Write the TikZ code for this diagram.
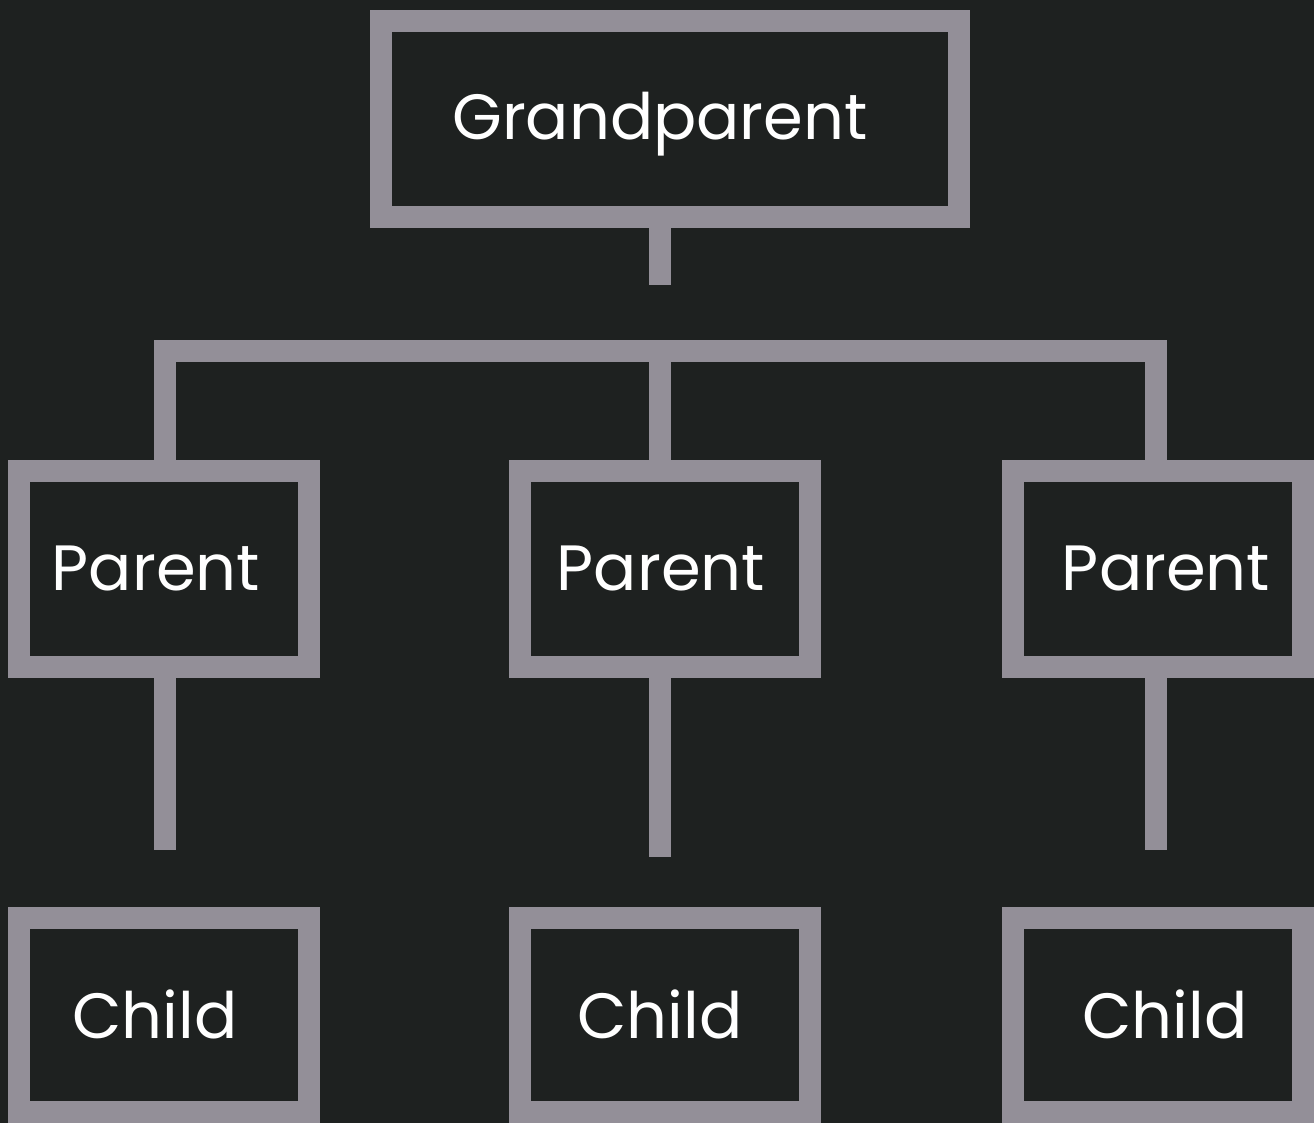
\documentclass[tikz,border=0pt]{standalone}
\usepackage{fontspec}
\setmainfont{Poppins}
\definecolor{bgc}{HTML}{1E2120}
\definecolor{linec}{HTML}{938F98}
\begin{document}
\begin{tikzpicture}[x=1pt,y=-1pt,
  boxstyle/.style={draw=linec,line width=22pt,inner sep=0pt,minimum height=196pt,minimum width=290pt},
  conn/.style={draw=linec,line width=22pt},
  lbl/.style={text=white,font=\fontsize{64}{70}\selectfont,anchor=base,inner sep=0pt}]
\fill[bgc] (0,0) rectangle (1314,1123);
\useasboundingbox (0,0) rectangle (1314,1123);
% boxes
\node[boxstyle,minimum width=578pt] (gp) at (670,119) {};
\node[boxstyle] (p1) at (164,569) {};
\node[boxstyle] (p2) at (665,569) {};
\node[boxstyle] (p3) at (1158,569) {};
\node[boxstyle,minimum height=194pt] (c1) at (164,1015) {};
\node[boxstyle,minimum height=194pt] (c2) at (665,1015) {};
\node[boxstyle,minimum height=194pt] (c3) at (1158,1015) {};
% labels
\node[lbl] (tgp) at (660,140) {Grandparent};
\node[lbl] (tp1) at (156,590) {Parent};
\node[lbl] (tp2) at (661,590) {Parent};
\node[lbl] (tp3) at (1166,590) {Parent};
\node[lbl] (tc1) at (155,1038) {Child};
\node[lbl] (tc2) at (660,1038) {Child};
\node[lbl] (tc3) at (1165,1038) {Child};
% connector coordinates
\coordinate (gstub) at (660,285);
\coordinate (hubL) at (165,351);
\coordinate (hubM) at (660,351);
\coordinate (hubR) at (1156,351);
\coordinate (s1) at (165,850);
\coordinate (s2) at (660,857);
\coordinate (s3) at (1156,850);
% connectors
\draw[conn] (gp.south -| gstub) -- (gstub);
\draw[conn] (p1.north -| hubL) -- (hubL) -- (hubR) -- (p3.north -| hubR);
\draw[conn] (hubM) -- (p2.north -| hubM);
\draw[conn] (p1.south -| s1) -- (s1);
\draw[conn] (p2.south -| s2) -- (s2);
\draw[conn] (p3.south -| s3) -- (s3);
\end{tikzpicture}
\end{document}
